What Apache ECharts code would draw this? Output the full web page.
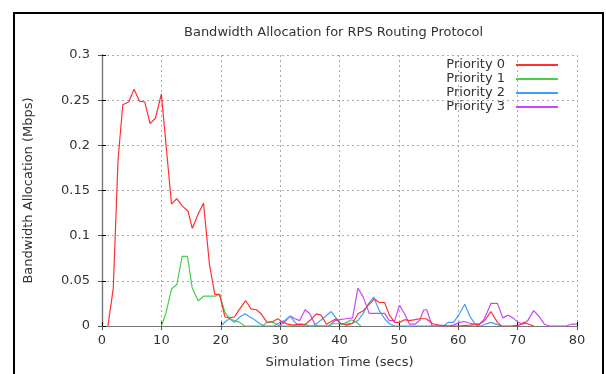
<!DOCTYPE html>
<html>
<head>
<meta charset="utf-8">
<script src="https://cdn.jsdelivr.net/npm/echarts@6/dist/echarts.min.js"></script>
<style>
  html, body { margin: 0; padding: 0; background: #fff; }
  #chart { width: 606px; height: 374px; }
</style>
</head>
<body>
<div id="chart"></div>
<script>
// [time (secs), bandwidth (Mbps)]
const priority0 = [
  [1, 0], [1.9, 0.042], [2.7, 0.184], [3.5, 0.245], [4.5, 0.248], [5.4, 0.262],
  [6.3, 0.249], [7.2, 0.248], [8.1, 0.224], [9, 0.23], [10, 0.257], [11.7, 0.135],
  [12.6, 0.141], [13.5, 0.133], [14.5, 0.127], [15.2, 0.108], [16.2, 0.124], [17.1, 0.136],
  [18.1, 0.068], [19, 0.035], [19.8, 0.035], [20.7, 0.01], [21.5, 0.009], [22.3, 0.01],
  [23.2, 0.019], [24.2, 0.028], [25.1, 0.019], [26, 0.018], [26.8, 0.0135], [27.8, 0.004],
  [28.8, 0.005], [29.6, 0.008], [30.5, 0.004], [31.3, 0.002], [32.2, 0.001], [33.3, 0.002],
  [34.1, 0.001], [35, 0.006], [36.1, 0.0135], [36.9, 0.012], [37.8, 0.002], [38.6, 0.005],
  [39.4, 0.008], [40.1, 0.003], [41.2, 0.001], [42.2, 0.003], [43.1, 0.0135], [44, 0.017],
  [45, 0.024], [45.9, 0.03], [46.7, 0.026], [47.6, 0.026], [48.4, 0.012], [49.3, 0.004],
  [50.1, 0.004], [51, 0.007], [51.8, 0.006], [52.7, 0.007], [53.5, 0.008], [54.6, 0.008],
  [55.7, 0.0025], [56.8, 0.001], [58.3, 0], [60, 0], [62, 0.001], [63.5, 0.002],
  [64.4, 0.0055], [65.5, 0.016], [66.6, 0.004], [67.3, 0], [69, 0], [70.3, 0.001],
  [71.1, 0.004], [71.9, 0.002], [72.7, 0]
]
const priority1 = [
  [10, 0], [10.8, 0.015], [11.7, 0.041], [12.6, 0.046], [13.5, 0.077], [14.4, 0.077],
  [15.2, 0.042], [16.2, 0.028], [17.1, 0.033], [18.1, 0.033], [19, 0.033], [19.8, 0.035],
  [20.7, 0.015], [21.5, 0.008], [22.3, 0.006], [23.2, 0.004], [24, 0], [27, 0],
  [27.8, 0.004], [28.8, 0.004], [29.6, 0.001], [30.5, 0], [32.5, 0], [33.3, 0.002],
  [34.1, 0.002], [35, 0], [38, 0], [38.9, 0.0025], [39.7, 0.0025], [40.4, 0.002],
  [41.2, 0.004], [42, 0.007], [42.9, 0.004], [43.6, 0]
]
const priority2 = [
  [20, 0], [20.8, 0.005], [21.5, 0.008], [22.3, 0.004], [23.2, 0.01], [24.1, 0.0135],
  [24.9, 0.01], [25.7, 0.007], [26.6, 0.0025], [27.4, 0], [29, 0], [29.9, 0.004],
  [30.8, 0.006], [31.7, 0.011], [32.5, 0.004], [33.4, 0], [35.5, 0], [36.4, 0.004],
  [37.5, 0.01], [38.6, 0.016], [39.4, 0.009], [40.3, 0.002], [41.2, 0.002], [42.2, 0.003],
  [43.1, 0.006], [44, 0.014], [44.8, 0.024], [45.75, 0.032], [46.7, 0.017], [47.6, 0.008],
  [48.4, 0.0025], [49.3, 0], [57.5, 0], [58.3, 0.004], [59.2, 0.004], [60.2, 0.0135],
  [61.1, 0.024], [62, 0.01], [63, 0.001], [63.8, 0], [64.6, 0.002], [65.5, 0.004],
  [66.4, 0.002], [67.3, 0]
]
const priority3 = [
  [29.6, 0], [30.5, 0.003], [31.7, 0.011], [32.5, 0.008], [33.3, 0.006], [34.2, 0.018],
  [35, 0.0135], [35.9, 0.001], [36.6, 0], [38.3, 0], [39.2, 0.006], [40, 0.007],
  [41.1, 0.008], [42.2, 0.009], [43.1, 0.042], [44, 0.032], [45, 0.014], [45.9, 0.014],
  [46.7, 0.014], [47.6, 0.014], [48.4, 0.006], [49.3, 0.006], [50.1, 0.023], [51, 0.013],
  [51.8, 0.002], [52.7, 0.002], [53.5, 0.006], [54.2, 0.018], [54.7, 0.018], [55.6, 0],
  [58.3, 0], [59.2, 0.001], [60.2, 0.004], [61, 0.005], [62, 0.003], [62.8, 0.002],
  [63.6, 0.002], [64.4, 0.008], [65.5, 0.025], [66.6, 0.025], [67.5, 0.009], [68.4, 0.012],
  [69.2, 0.009], [70.1, 0.004], [70.9, 0.002], [71.7, 0.006], [72.7, 0.017], [73.7, 0.01],
  [74.5, 0.002], [75.3, 0], [78.2, 0], [79, 0.002], [80, 0.002]
]

const seriesNames = ['Priority 0', 'Priority 1', 'Priority 2', 'Priority 3']
const seriesData = [priority0, priority1, priority2, priority3]
const seriesColors = ['#ff3030', '#4ccc4c', '#3f9fff', '#cc44ff']

const FONT = 'DejaVu Sans'
const textColor = '#333'

const myChart = echarts.init(document.getElementById('chart'), null, { renderer: 'canvas' })

const gridLine = { show: true, lineStyle: { color: '#aaa', type: [2, 3], width: 1 } }

const option = {
  animation: false,
  backgroundColor: '#fff',
  textStyle: { fontFamily: FONT },
  title: {
    text: 'Bandwidth Allocation for RPS Routing Protocol',
    left: 179,
    top: 21,
    textStyle: { fontFamily: FONT, fontSize: 13, fontWeight: 'normal', color: textColor }
  },
  legend: {
    data: seriesNames,
    orient: 'vertical',
    align: 'right',
    right: 43,
    top: 53,
    itemWidth: 42,
    itemHeight: 2,
    itemGap: 0,
    icon: 'rect',
    textStyle: { fontFamily: FONT, fontSize: 13, color: textColor, lineHeight: 14, padding: [0, 6, 0, 0] }
  },
  grid: { left: 102, right: 29, top: 55, bottom: 45 },
  xAxis: [{
    type: 'value',
    min: 0,
    max: 80,
    interval: 10,
    name: 'Simulation Time (secs)',
    nameLocation: 'middle',
    nameGap: 30,
    nameTextStyle: { fontFamily: FONT, fontSize: 13, color: textColor },
    axisLine: { lineStyle: { color: '#000', width: 1.2 } },
    axisTick: { inside: true, length: 4, lineStyle: { color: '#000' } },
    axisLabel: { margin: 8, fontFamily: FONT, fontSize: 13, color: textColor },
    splitLine: gridLine
  }, {
    type: 'value',
    position: 'top',
    min: 0,
    max: 80,
    interval: 10,
    axisLine: { lineStyle: { color: '#777', width: 1 } },
    axisTick: { inside: true, length: 4, lineStyle: { color: '#555' } },
    axisLabel: { show: false },
    splitLine: { show: false }
  }],
  yAxis: [{
    type: 'value',
    min: 0,
    max: 0.3,
    interval: 0.05,
    name: 'Bandwidth Allocation (Mbps)',
    nameLocation: 'middle',
    nameGap: 67,
    nameTextStyle: { fontFamily: FONT, fontSize: 13, color: textColor },
    axisLine: { show: true, lineStyle: { color: '#000', width: 1.2 } },
    axisTick: { show: true, inside: true, length: 4, lineStyle: { color: '#000' } },
    axisLabel: { margin: 12, fontFamily: FONT, fontSize: 13, color: textColor },
    splitLine: gridLine
  }, {
    type: 'value',
    position: 'right',
    min: 0,
    max: 0.3,
    interval: 0.05,
    axisLine: { show: true, lineStyle: { color: '#777', width: 1 } },
    axisTick: { show: true, inside: true, length: 4, lineStyle: { color: '#555' } },
    axisLabel: { show: false },
    splitLine: { show: false }
  }],
  series: seriesNames.map((name, i) => ({
    name: name,
    type: 'line',
    data: seriesData[i],
    showSymbol: false,
    symbol: 'none',
    color: seriesColors[i],
    lineStyle: { width: 1.2, color: seriesColors[i] },
    z: 4 - i
  })),
  graphic: [{
    type: 'rect',
    shape: { x: 14, y: 13, width: 589, height: 400 },
    style: { fill: 'none', stroke: '#000', lineWidth: 2 },
    silent: true
  }]
}

myChart.setOption(option)
</script>
</body>
</html>
